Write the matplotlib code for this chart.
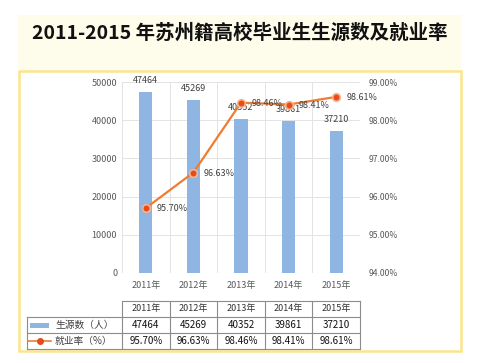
import matplotlib
matplotlib.use('Agg')
import matplotlib.pyplot as plt
import matplotlib.transforms as mtransforms
from matplotlib.patches import Rectangle
from matplotlib.lines import Line2D

plt.rcParams['font.family'] = ['Noto Sans CJK SC', 'DejaVu Sans']

# data
years = ['2011年', '2012年', '2013年', '2014年', '2015年']
graduates = [47464, 45269, 40352, 39861, 37210]
employ_rate = [95.70, 96.63, 98.46, 98.41, 98.61]
series_names = ['生源数（人）', '就业率（%）']
title = '2011-2015 年苏州籍高校毕业生生源数及就业率'

bar_color = '#8FB5E3'
line_color = '#ED7D31'
grid_color = '#E3E3E3'
tick_color = '#595959'

W, H = 480, 363
fig = plt.figure(figsize=(W / 100, H / 100), dpi=100)
fig.patch.set_facecolor('white')

def fx(px):
    return px / W

def fy(py):
    return 1 - py / H

# title band and yellow frame (behind the axes)
fig.patches.append(Rectangle((fx(18), fy(70)), fx(443), 55 / H, transform=fig.transFigure,
                             facecolor='#FEFCEA', edgecolor='none', zorder=-2))
fig.patches.append(Rectangle((fx(19), fy(351)), fx(442), 280 / H, transform=fig.transFigure,
                             facecolor='white', edgecolor='#FBE58A', linewidth=1.8, zorder=-1))
fig.text(0.5, fy(33), title, ha='center', va='center', fontsize=14, fontweight='bold', color='#111111')

ax = fig.add_axes([fx(122), fy(273), fx(360 - 122), (273 - 82) / H])
ax.set_facecolor('none')
x = list(range(len(years)))

ax.bar(x, graduates, width=0.28, color=bar_color, zorder=2)
ax.set_xlim(-0.5, len(years) - 0.5)
ax.set_ylim(0, 50000)
ax.set_yticks(range(0, 50001, 10000))
ax.set_xticks(x)
ax.set_xticklabels(years)
ax.tick_params(axis='both', length=0, labelsize=6.5, colors=tick_color)
ax.tick_params(axis='x', pad=6)
for s in ax.spines.values():
    s.set_visible(False)
ax.grid(axis='y', color=grid_color, linewidth=0.7, zorder=0)
for b in [i + 0.5 for i in range(-1, len(years))]:
    ax.axvline(b, color=grid_color, linewidth=0.7, zorder=0)

for xi, v in zip(x, graduates):
    ax.annotate(str(v), (xi, v), xytext=(0, 5), textcoords='offset points',
                ha='center', va='bottom', fontsize=6.5, color='#404040', zorder=5)

ax2 = ax.twinx()
ax2.plot(x, employ_rate, color=line_color, linewidth=1.6, marker='o', markersize=5.5,
         markerfacecolor='#E84A1A', markeredgecolor='#F7B48A', markeredgewidth=1.2, zorder=4)
ax2.set_ylim(94, 99)
ax2.set_yticks(range(94, 100))
ax2.set_yticklabels(['%.2f%%' % t for t in range(94, 100)])
ax2.tick_params(axis='y', length=0, labelsize=6.2, colors=tick_color, pad=6)
for s in ax2.spines.values():
    s.set_visible(False)
for xi, v in zip(x, employ_rate):
    ax2.annotate('%.2f%%' % v, (xi, v), xytext=(7.5, -0.5), textcoords='offset points',
                 ha='left', va='center', fontsize=6.5, color='#404040', zorder=5)

# data table under the chart
trans = mtransforms.blended_transform_factory(ax.transData, fig.transFigure)
rows_y = [301, 317, 333, 349]
edge = '#8C8C8C'
tl = -2.5
tr = len(years) - 0.5
fig.lines.append(Line2D([-0.5, tr], [fy(rows_y[0])] * 2, transform=trans, color=edge, lw=0.8))
for ry in rows_y[1:]:
    fig.lines.append(Line2D([tl, tr], [fy(ry)] * 2, transform=trans, color=edge, lw=0.8))
fig.lines.append(Line2D([tl, tl], [fy(rows_y[1]), fy(rows_y[3])], transform=trans, color=edge, lw=0.8))
for b in [i - 0.5 for i in range(len(years) + 1)]:
    fig.lines.append(Line2D([b, b], [fy(rows_y[0]), fy(rows_y[3])], transform=trans, color=edge, lw=0.8))

def mid(i):
    return fy((rows_y[i] + rows_y[i + 1]) / 2)

for xi, yr, g, r in zip(x, years, graduates, employ_rate):
    fig.text(xi, mid(0), yr, transform=trans, ha='center', va='center', fontsize=6.5, color='#333333')
    fig.text(xi, mid(1), str(g), transform=trans, ha='center', va='center', fontsize=7, color='#111111')
    fig.text(xi, mid(2), '%.2f%%' % r, transform=trans, ha='center', va='center', fontsize=7, color='#111111')

# legend keys inside the table
fig.patches.append(Rectangle((fx(30), mid(1) - 2.5 / H), fx(19), 5 / H, transform=fig.transFigure,
                             facecolor=bar_color, edgecolor='none'))
fig.lines.append(Line2D([fx(28), fx(51)], [mid(2)] * 2, transform=fig.transFigure, color=line_color, lw=1.2))
fig.lines.append(Line2D([fx(39.5)], [mid(2)], transform=fig.transFigure, marker='o', markersize=4,
                        markerfacecolor='#E84A1A', markeredgecolor='#E84A1A'))
fig.text(fx(55), mid(1), series_names[0], ha='left', va='center', fontsize=7, color='#404040')
fig.text(fx(55), mid(2), series_names[1], ha='left', va='center', fontsize=7, color='#404040')

fig.savefig('out.png', dpi=100)
